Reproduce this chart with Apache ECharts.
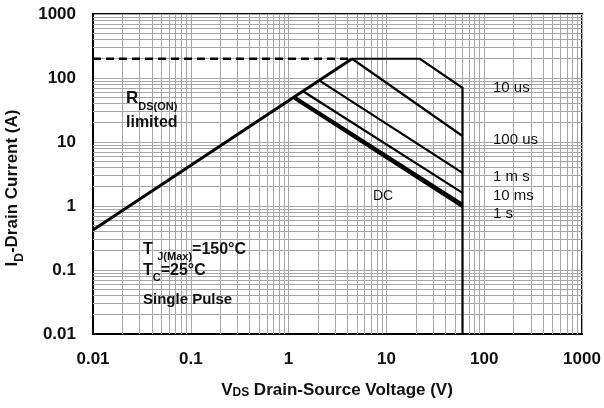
<!DOCTYPE html>
<html><head><meta charset="utf-8">
<script src="https://cdn.jsdelivr.net/npm/echarts@6/dist/echarts.min.js"></script>
<style>html,body{margin:0;padding:0;background:#fff}#c{width:604px;height:408px}</style>
</head><body><div id="c"></div>
<script>
// Tick labels
const xTickLabels = ['0.01', '0.1', '1', '10', '100', '1000'];
const yTickLabels = ['0.01', '0.1', '1', '10', '100', '1000'];
// Current limit (dashed) and RDS(on) limit
const limitV = [0.01, 4.45];
const limitI = [200, 200];
const rdsV = [0.01, 4.45];
const rdsI = [0.42, 200];
// Pulse boundaries
const us10V = [4.45, 22, 60, 60];
const us10I = [200, 200, 70, 0.01];
const us100V = [4.45, 60];
const us100I = [200, 12.4];
const ms1V = [2.09, 60];
const ms1I = [90, 3.3];
const ms10V = [1.43, 60];
const ms10I = [61, 1.6];
const s1V = [1.17, 60];
const s1I = [50, 1.07];
const dcV = [1.14, 60];
const dcI = [48, 0.97];
// Decades for minor grid
const decades = [-2, -1, 0, 1, 2];
const minorSteps = [2, 3, 4, 5, 6, 7, 8, 9];

const zip = (a, b) => a.map((v, i) => [v, b[i]]);
const minorVals = [];
decades.forEach(d => minorSteps.forEach(k => minorVals.push(+(k * Math.pow(10, d)).toPrecision(6))));

const gridColor = '#a6a6a6';
const FONT = 'Liberation Sans, Arial, sans-serif';

function lineSeries(data, width, dashed) {
  return {
    type: 'line', data: data, showSymbol: false, symbol: 'none', z: 5, silent: true,
    lineStyle: { color: '#000', width: width, type: dashed ? [8, 5] : 'solid', cap: 'butt', join: 'miter' },
    animation: false
  };
}

const subRich = (main, sub) => ({
  m: { fontFamily: FONT, fontSize: main, fontWeight: 'bold', color: '#111', verticalAlign: 'bottom', padding: [0, 0, Math.round(main * 0.3), 0] },
  s: { fontFamily: FONT, fontSize: sub, fontWeight: 'bold', color: '#111', verticalAlign: 'bottom' }
});

function txt(x, y, text, opts) {
  opts = opts || {};
  return {
    type: 'text', x: x, y: y, rotation: opts.rotation || 0, z: 20, silent: true,
    style: {
      text: text, fill: '#111', align: opts.align || 'left', verticalAlign: opts.va || 'middle',
      fontFamily: FONT, fontSize: opts.size || 16, fontWeight: opts.weight || 'normal',
      rich: opts.rich
    }
  };
}

const chart = echarts.init(document.getElementById('c'), null, { renderer: 'canvas' });
chart.setOption({
  animation: false,
  backgroundColor: '#fff',
  grid: { left: 93, right: 22, top: 14, bottom: 74, show: true, borderColor: '#000', borderWidth: 2, backgroundColor: 'transparent' },
  xAxis: {
    type: 'log', logBase: 10, min: 0.01, max: 1000, splitNumber: 5,
    axisLine: { show: true, lineStyle: { color: '#000', width: 2 } },
    axisTick: { show: false },
    splitLine: { show: true, lineStyle: { color: gridColor, width: 1 } },
    axisLabel: { margin: 17, color: '#111', fontFamily: FONT, fontSize: 17, fontWeight: 'bold',
      formatter: (v, i) => xTickLabels[i] }
  },
  yAxis: {
    type: 'log', logBase: 10, min: 0.01, max: 1000, splitNumber: 5,
    axisLine: { show: true, lineStyle: { color: '#000', width: 2 } },
    axisTick: { show: false },
    splitLine: { show: true, lineStyle: { color: gridColor, width: 1 } },
    axisLabel: { margin: 17, color: '#111', fontFamily: FONT, fontSize: 17, fontWeight: 'bold',
      formatter: (v, i) => yTickLabels[i] }
  },
  series: [
    {
      type: 'line', data: [[0.01, 0.01]], showSymbol: false, symbol: 'none', z: 1, silent: true,
      lineStyle: { opacity: 0 },
      markLine: {
        silent: true, symbol: 'none', animation: false, label: { show: false },
        lineStyle: { color: gridColor, width: 1, type: 'solid' },
        emphasis: { disabled: true },
        data: minorVals.map(v => ({ xAxis: v })).concat(minorVals.map(v => ({ yAxis: v })))
      }
    },
    lineSeries(zip(limitV, limitI), 2.5, true),
    lineSeries(zip(rdsV, rdsI), 3, false),
    lineSeries(zip(us10V, us10I), 2.2, false),
    lineSeries(zip(us100V, us100I), 2.2, false),
    lineSeries(zip(ms1V, ms1I), 2.2, false),
    lineSeries(zip(ms10V, ms10I), 2.2, false),
    lineSeries(zip(s1V, s1I), 2.6, false),
    lineSeries(zip(dcV, dcI), 2.6, false)
  ],
  graphic: [
    txt(126, 101, '{m|R}{s|DS(ON)}', { rich: subRich(17, 11) }),
    txt(126, 123, 'limited', { size: 16, weight: 'bold' }),
    txt(143, 252, '{m|T }{s|J(Max)}{m|=150°C}', { rich: subRich(16, 11) }),
    txt(143, 273, '{m|T}{s|C}{m|=25°C}', { rich: subRich(16, 11) }),
    txt(143, 300, 'Single Pulse', { size: 15, weight: 'bold' }),
    txt(373, 196, 'DC', { size: 14 }),
    txt(493, 88, '10 us', { size: 15 }),
    txt(493, 140, '100 us', { size: 15 }),
    txt(493, 177, '1 m s', { size: 15 }),
    txt(493, 196, '10 ms', { size: 15 }),
    txt(493, 214, '1 s', { size: 15 }),
    txt(337, 390, '{m|V}{s|DS}{m| Drain-Source Voltage (V)}', { align: 'center', rich: {
      m: { fontFamily: FONT, fontSize: 17, fontWeight: 'bold', color: '#111', verticalAlign: 'bottom' },
      s: { fontFamily: FONT, fontSize: 12, fontWeight: 'bold', color: '#111', verticalAlign: 'bottom' } } }),
    txt(15, 188, '{m|I}{s|D}{m|-Drain Current (A)}', { align: 'center', rotation: Math.PI / 2, rich: subRich(17, 12) })
  ]
});
</script></body></html>
